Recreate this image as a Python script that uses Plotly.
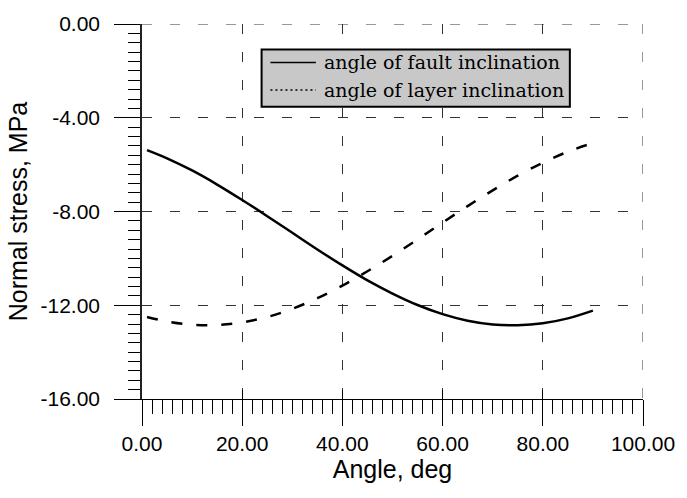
import plotly.graph_objects as go

# Angle, deg
angle = [1, 5, 10, 15, 20, 25, 30, 35, 40, 45, 50, 55, 60, 65, 70, 75, 80, 85, 90]
# Normal stress vs angle of fault inclination, MPa
fault_stress = [-5.38, -5.73, -6.25, -6.85, -7.51, -8.20, -8.91, -9.62, -10.30, -10.94,
                -11.50, -11.99, -12.38, -12.66, -12.82, -12.85, -12.77, -12.56, -12.23]
# Normal stress vs angle of layer inclination, MPa
layer_stress = [-12.50, -12.69, -12.83, -12.84, -12.73, -12.50, -12.15, -11.70, -11.16, -10.55,
                -9.89, -9.19, -8.47, -7.77, -7.10, -6.47, -5.92, -5.45, -5.08]

x_tickvals = [0, 20, 40, 60, 80, 100]
x_ticktext = ["0.00", "20.00", "40.00", "60.00", "80.00", "100.00"]
y_tickvals = [0, -4, -8, -12, -16]
y_ticktext = ["0.00", "-4.00", "-8.00", "-12.00", "-16.00"]

series_names = ["angle of fault inclination", "angle of layer inclination"]
legend_dashes = ["solid", "2px,3px"]

GRID_DASH = "10px,18px"
GRID_COLOR = "#333"

fig = go.Figure()

# data curves
fig.add_trace(go.Scatter(x=angle, y=fault_stress, mode="lines", name=series_names[0],
                         showlegend=False,
                         line=dict(color="black", width=2.5, shape="spline")))
fig.add_trace(go.Scatter(x=angle, y=layer_stress, mode="lines", name=series_names[1],
                         showlegend=False,
                         line=dict(color="black", width=2.5, dash="11px,14px", shape="spline")))

# overlay axis for inner half of crossing x ticks
fig.add_trace(go.Scatter(x=[None], y=[None], xaxis="x2", showlegend=False))

tickfont = dict(family="Liberation Sans, Arial, sans-serif", size=21, color="black")
titlefont = dict(family="Liberation Sans, Arial, sans-serif", size=25, color="black")

# grid lines at the range edges (top and right), which plotly does not draw itself
fig.add_shape(type="line", xref="x", yref="y",
              x0=x_tickvals[0], x1=x_tickvals[-1], y0=y_tickvals[0], y1=y_tickvals[0],
              line=dict(color=GRID_COLOR, width=1, dash=GRID_DASH), layer="below")
fig.add_shape(type="line", xref="x", yref="y",
              x0=x_tickvals[-1], x1=x_tickvals[-1], y0=y_tickvals[0], y1=y_tickvals[-1],
              line=dict(color=GRID_COLOR, width=1, dash=GRID_DASH), layer="below")

# legend box (drawn by hand so its proportions match the original)
LEG_X0, LEG_X1, LEG_Y0, LEG_Y1 = 0.2387, 0.854, 0.7795, 0.9318
fig.add_shape(type="rect", xref="paper", yref="paper",
              x0=LEG_X0, x1=LEG_X1, y0=LEG_Y0, y1=LEG_Y1,
              fillcolor="#c8c8c8", line=dict(color="black", width=2), layer="above")
row_y = [0.8976, 0.8241]
for name, dash, ry in zip(series_names, legend_dashes, row_y):
    fig.add_shape(type="line", xref="paper", yref="paper",
                  x0=0.2564, x1=0.3471, y0=ry, y1=ry,
                  line=dict(color="black", width=1.5, dash=dash), layer="above")
    fig.add_annotation(xref="paper", yref="paper", x=0.359, y=ry, text=name,
                       showarrow=False, xanchor="left", yanchor="middle",
                       font=dict(family="DejaVu Serif, serif", size=19, color="black"))

fig.update_layout(
    width=687, height=498,
    margin=dict(l=142, r=38, t=18, b=99, pad=0),
    paper_bgcolor="white", plot_bgcolor="white",
    showlegend=False,
    xaxis=dict(range=[0, 100], tickmode="array", tickvals=x_tickvals, ticktext=x_ticktext,
               ticks="outside", ticklen=26, tickwidth=1, tickcolor="black",
               showline=True, linecolor="black", linewidth=1,
               showgrid=True, gridcolor=GRID_COLOR, gridwidth=1, griddash=GRID_DASH,
               zeroline=False, tickfont=tickfont,
               title=dict(text="Angle, deg", font=titlefont, standoff=4),
               minor=dict(tickmode="linear", tick0=0, dtick=2, ticks="outside", ticklen=14,
                          tickcolor="black", tickwidth=1, showgrid=False)),
    xaxis2=dict(range=[0, 100], overlaying="x", side="bottom", anchor="y",
                tickmode="array", tickvals=x_tickvals, ticks="inside", ticklen=9,
                tickwidth=1, tickcolor="black", showticklabels=False,
                showgrid=False, zeroline=False, showline=False),
    yaxis=dict(range=[-16, 0], tickmode="array", tickvals=y_tickvals, ticktext=y_ticktext,
               ticks="outside", ticklen=26, tickwidth=1, tickcolor="black",
               showline=True, linecolor="#222", linewidth=1.5,
               showgrid=True, gridcolor=GRID_COLOR, gridwidth=1, griddash=GRID_DASH,
               zeroline=False, tickfont=tickfont, ticklabelstandoff=10,
               title=dict(text="Normal stress, MPa", font=titlefont, standoff=6),
               minor=dict(tickmode="linear", tick0=0, dtick=0.4, ticks="outside", ticklen=12,
                          tickcolor="black", tickwidth=1, showgrid=False)),
)

fig.write_html("out.html")
